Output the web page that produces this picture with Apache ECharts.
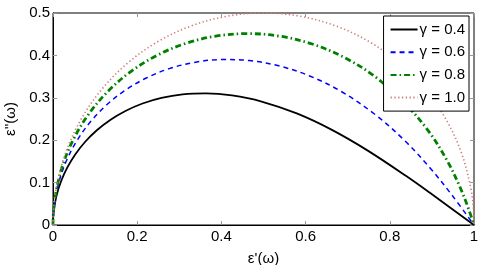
<!DOCTYPE html>
<html><head><meta charset="utf-8">
<script src="https://cdn.jsdelivr.net/npm/echarts@6/dist/echarts.min.js"></script>
<style>html,body{margin:0;padding:0;background:#fff}#c{width:482px;height:265px}</style>
</head><body><div id="c"></div>
<script>
const seriesNames = ['γ = 0.4', 'γ = 0.6', 'γ = 0.8', 'γ = 1.0'];
const xTicks = [0, 0.2, 0.4, 0.6, 0.8, 1];
const yTicks = [0, 0.1, 0.2, 0.3, 0.4, 0.5];
const g04 = [[0,0],[0.0003,0.014],[0.0021,0.0348],[0.0085,0.0693],[0.0192,0.1031],[0.0341,0.1358],[0.0532,0.1669],[0.0765,0.1963],[0.1041,0.2234],[0.1359,0.2478],[0.1721,0.2690],[0.2126,0.2866],[0.2577,0.2999],[0.3077,0.3082],[0.3632,0.3106],[0.4252,0.3056],[0.4956,0.2912],[0.5790,0.2631],[0.6625,0.2243],[0.7477,0.1754],[0.8390,0.1153],[0.9009,0.0717],[1,0]];
const g06 = [[0,0],[0.0006,0.021],[0.0037,0.0522],[0.0146,0.1036],[0.0327,0.1532],[0.0577,0.2003],[0.0894,0.2440],[0.1276,0.2835],[0.1718,0.3179],[0.2215,0.3466],[0.2763,0.3688],[0.3357,0.3835],[0.3992,0.3902],[0.4662,0.3878],[0.5364,0.3754],[0.6096,0.3515],[0.6857,0.3143],[0.7659,0.2599],[0.8356,0.1988],[0.8956,0.1346],[0.9474,0.0708],[1,0]];
const g08 = [[0,0],[0.0009,0.028],[0.0055,0.0695],[0.0218,0.1375],[0.0486,0.2022],[0.0854,0.2623],[0.1314,0.3161],[0.1857,0.3625],[0.2473,0.4002],[0.3148,0.4281],[0.3869,0.4455],[0.4621,0.4514],[0.5389,0.4453],[0.6157,0.4268],[0.6909,0.3956],[0.7630,0.3514],[0.8324,0.2902],[0.8920,0.2215],[0.9364,0.1514],[0.9671,0.0885],[0.9874,0.0371],[1,0]];
const g10 = [[0,0],[0.0012,0.0349],[0.0076,0.0868],[0.0302,0.1710],[0.0670,0.25],[0.1170,0.3214],[0.1786,0.3830],[0.25,0.4330],[0.3290,0.4698],[0.4132,0.4924],[0.5,0.5],[0.5868,0.4924],[0.6710,0.4698],[0.75,0.4330],[0.8214,0.3830],[0.8830,0.3214],[0.9330,0.25],[0.9698,0.1710],[0.9924,0.0868],[0.9988,0.0349],[1,0]];

const chart = echarts.init(document.getElementById('c'), null, {renderer:'canvas'});
const font = 'Liberation Sans, Arial, sans-serif';
function axisBase(show) {
  return {
    axisLine:{show:show, onZero:false, lineStyle:{color:'#000', width:1}},
    axisTick:{show:true, inside:true, length:4, lineStyle:{color:'#999'}},
    splitLine:{show:false},
    axisLabel:{show:show, color:'#000', fontSize:15, fontFamily:font}
  };
}
const mk = (name, data, color, type, width) => ({
  name, type:'line', data, showSymbol:false, symbol:'none', smooth:0.35,
  xAxisIndex:0, yAxisIndex:0,
  lineStyle:{color, type, width}, itemStyle:{color}
});
chart.setOption({
  animation:false,
  backgroundColor:'#fff',
  grid:{left:53, right:8, top:13, bottom:40, show:true, borderColor:'#000', borderWidth:1, containLabel:false, outerBoundsMode:'none'},
  xAxis:[
    Object.assign(axisBase(true), {type:'value', min:0, max:1, interval:0.2, position:'bottom',
      name:"ε'(ω)", nameLocation:'middle', nameGap:26, nameTextStyle:{color:'#000', fontSize:15, fontFamily:font},
      axisLabel:{color:'#000', fontSize:15, fontFamily:font, margin:4, formatter:v=>String(+v.toFixed(1))}}),
    Object.assign(axisBase(false), {type:'value', min:0, max:1, interval:0.2, position:'top'})
  ],
  yAxis:[
    Object.assign(axisBase(true), {type:'value', min:0, max:0.5, interval:0.1, position:'left',
      name:"ε''(ω)", nameLocation:'middle', nameGap:34, nameRotate:90, nameTextStyle:{color:'#000', fontSize:15, fontFamily:font},
      axisLabel:{color:'#000', fontSize:15, fontFamily:font, margin:3, formatter:v=>String(+v.toFixed(1))}}),
    Object.assign(axisBase(false), {type:'value', min:0, max:0.5, interval:0.1, position:'right'})
  ],
  legend:{
    show:true, orient:'vertical', right:13, top:16,
    backgroundColor:'#fff', borderColor:'#000', borderWidth:1, borderRadius:0,
    padding:[6,4,6,6], itemGap:7.7, itemWidth:27, itemHeight:14,
    itemStyle:{opacity:0},
    textStyle:{color:'#000', fontSize:15, fontFamily:font, padding:[0,0,0,-3]}
  },
  series:[
    mk(seriesNames[0], g04, '#000000', 'solid', 1.8),
    mk(seriesNames[1], g06, '#0000ff', [5,4], 1.5),
    mk(seriesNames[2], g08, '#008000', [6,3,1.5,3], 2.8),
    mk(seriesNames[3], g10, '#d07a7a', [1.3,2.5], 1.6)
  ]
});
</script></body></html>
